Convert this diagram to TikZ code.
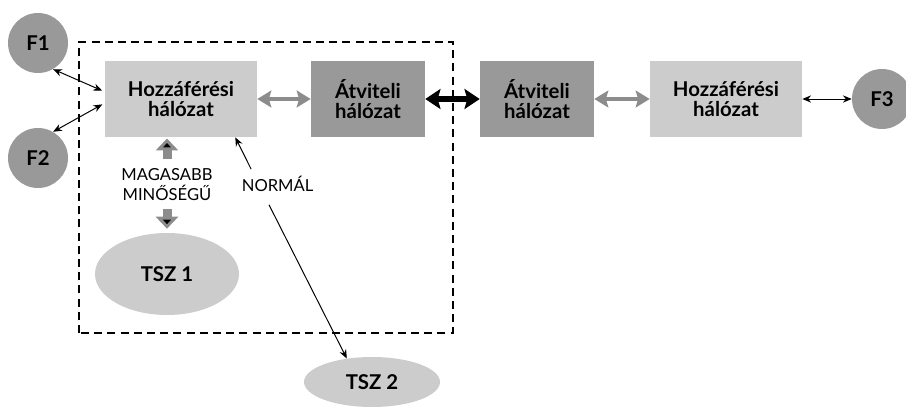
\documentclass[tikz,border=0pt]{standalone}
\usepackage{fontspec}
\setmainfont{Lato}
\usetikzlibrary{arrows.meta,shapes.geometric}

\definecolor{light}{HTML}{CCCCCC}
\definecolor{dark}{HTML}{999999}
\definecolor{arrgray}{HTML}{8C8C8C}

\tikzset{
  net/.style={rectangle, minimum height=1.9cm, inner sep=0pt, align=center,
    font=\fontsize{14.5}{14.2}\selectfont\bfseries},
  user/.style={circle, fill=dark, minimum size=1.5cm, inner sep=0pt,
    font=\fontsize{14.5}{14.2}\selectfont\bfseries},
  srv/.style={ellipse, fill=light, inner sep=0pt,
    font=\fontsize{14.5}{14.2}\selectfont\bfseries},
  lbl/.style={inner sep=0pt, align=center, font=\fontsize{11.8}{14.2}\selectfont},
  thinarr/.style={line width=0.7pt, {Stealth[length=2.2mm,width=1.8mm]}-{Stealth[length=2.2mm,width=1.8mm]}},
  widearr/.style={line width=2.6pt, draw=arrgray,
    {Stealth[length=3.5mm,width=4.2mm,inset=0.6mm]}-{Stealth[length=3.5mm,width=4.2mm,inset=0.6mm]}},
  boldarr/.style={line width=4pt, draw=black,
    {Stealth[length=3.8mm,width=5mm,inset=0.7mm]}-{Stealth[length=3.8mm,width=5mm,inset=0.7mm]}},
  fatarr/.style={line width=6.4pt, draw=arrgray, -{Triangle[length=3mm,width=5.5mm]}}
}

\begin{document}
\begin{tikzpicture}
\useasboundingbox (0,0) rectangle (22.65,10.325);
\draw[line width=0.9pt, dash pattern=on 0.2cm off 0.13cm] (1.975,2.0) rectangle (11.325,9.275);

% networks
\node[net, fill=light, minimum width=3.8cm] (hoz1) at (4.525,7.85) {Hozzáférési\\hálózat};
\node[net, fill=dark, minimum width=2.85cm] (atv1) at (9.2,7.85) {Átviteli\\hálózat};
\node[net, fill=dark, minimum width=2.85cm] (atv2) at (13.425,7.85) {Átviteli\\hálózat};
\node[net, fill=light, minimum width=3.8cm] (hoz2) at (18.15,7.85) {Hozzáférési\\hálózat};

% users
\node[user] (f1) at (0.95,9.25) {F1};
\node[user] (f2) at (0.95,6.375) {F2};
\node[user] (f3) at (22.05,7.85) {F3};

% services
\node[srv, minimum width=3.6cm, minimum height=2.05cm] (tsz1) at (4.175,3.475) {TSZ 1};
\node[srv, minimum width=3.4cm, minimum height=1.25cm] (tsz2) at (9.3,0.775) {TSZ 2};

\draw[thinarr, shorten >=2pt] (f1.-60) -- ([yshift=0.18cm]hoz1.west);
\draw[thinarr, shorten >=2pt] (f2.60) -- ([yshift=-0.1cm]hoz1.west);
\draw[thinarr] (hoz2) -- (f3);
\draw[widearr] (hoz1) -- (atv1);
\draw[widearr] (atv2) -- (hoz2);
\draw[boldarr] (atv1) -- (atv2);

\node[lbl] (magas) at (4.175,5.72) {MAGASABB\\MINŐSÉGŰ};
\path[fatarr, shorten <=0.21cm] (magas) edge[shorten >=0.03cm] (magas |- hoz1.south)
  edge[shorten >=0.1cm] (magas |- tsz1.north);

\node[lbl] (normal) at (6.94,5.725) {NORMÁL};
\coordinate (n) at (6.5,5.65);
\path[thinarr, {-Stealth[length=2.2mm,width=1.8mm]}, shorten <=0.5cm] (n)
  edge ([xshift=-0.55cm]hoz1.south east) edge (tsz2.137);
\end{tikzpicture}
\end{document}
